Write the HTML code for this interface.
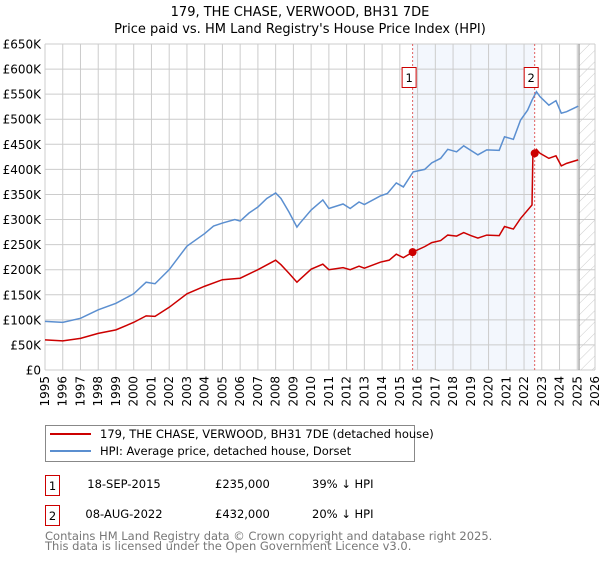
<!DOCTYPE html>
<html><head><meta charset="utf-8"><style>
body{margin:0;background:#fff;font-family:"DejaVu Sans","Liberation Sans",sans-serif}
svg text{font-family:"DejaVu Sans","Liberation Sans",sans-serif}
</style></head><body>
<svg id="chart" width="600" height="560" xmlns="http://www.w3.org/2000/svg">
<defs><pattern id="hatch" patternUnits="userSpaceOnUse" width="8" height="8" patternTransform="rotate(45)"><line x1="0" y1="0" x2="0" y2="8" stroke="#ccc" stroke-width="1"/></pattern></defs>
<text x="300" y="16" text-anchor="middle" font-size="13">179, THE CHASE, VERWOOD, BH31 7DE</text>
<text x="300" y="33" text-anchor="middle" font-size="13">Price paid vs. HM Land Registry's House Price Index (HPI)</text>
<g id="grid"></g><g id="marks"></g><g id="axes"></g>
<rect x="45.5" y="425.5" width="369" height="36" fill="#fff" stroke="#888"/>
<line x1="50" y1="434" x2="91" y2="434" stroke="#cc0000" stroke-width="2"/>
<text x="100" y="438" font-size="11.5">179, THE CHASE, VERWOOD, BH31 7DE (detached house)</text>
<line x1="50" y1="451" x2="91" y2="451" stroke="#5b8fd0" stroke-width="2"/>
<text x="100" y="455" font-size="11.5">HPI: Average price, detached house, Dorset</text>
<g font-size="11.5">
<rect x="45.5" y="475.5" width="14" height="20" fill="#fff" stroke="#cc0000"/>
<text x="52.5" y="490" text-anchor="middle">1</text>
<text x="124" y="488" text-anchor="middle">18-SEP-2015</text>
<text x="215" y="488">£235,000</text>
<text x="312" y="488">39% ↓ HPI</text></g>
<g font-size="11.5">
<rect x="45.5" y="505.5" width="14" height="20" fill="#fff" stroke="#cc0000"/>
<text x="52.5" y="520" text-anchor="middle">2</text>
<text x="124" y="518" text-anchor="middle">08-AUG-2022</text>
<text x="215" y="518">£432,000</text>
<text x="312" y="518">20% ↓ HPI</text></g>
<text x="45" y="540" font-size="11.5" fill="#777">Contains HM Land Registry data © Crown copyright and database right 2025.</text>
<text x="45" y="550" font-size="11.5" fill="#777">This data is licensed under the Open Government Licence v3.0.</text>
</svg>
<script>
const yTicks=[0,50,100,150,200,250,300,350,400,450,500,550,600,650];
const yTickLabels=["£0","£50K","£100K","£150K","£200K","£250K","£300K","£350K","£400K","£450K","£500K","£550K","£600K","£650K"];
const xYears=[1995,1996,1997,1998,1999,2000,2001,2002,2003,2004,2005,2006,2007,2008,2009,2010,2011,2012,2013,2014,2015,2016,2017,2018,2019,2020,2021,2022,2023,2024,2025,2026];
const hpiT=[1995,1996,1997,1998,1999,2000,2000.7,2001.2,2002,2003,2004,2004.5,2005,2005.7,2006,2006.5,2007,2007.5,2008,2008.3,2008.75,2009.2,2009.35,2010,2010.66,2011,2011.8,2012.2,2012.7,2013,2013.9,2014.3,2014.8,2015.2,2015.75,2016.4,2016.8,2017.3,2017.7,2018.2,2018.6,2019,2019.4,2019.9,2020.6,2020.9,2021.4,2021.8,2022.2,2022.45,2022.7,2022.9,2023.4,2023.8,2024.1,2024.4,2025.05];
const hpiV=[97,95,103,120,133,152,175,172,200,247,272,287,293,300,297,313,325,342,353,342,315,285,292,319,339,322,331,322,335,330,347,352,373,365,395,400,413,422,440,435,447,438,429,439,438,465,460,498,518,538,555,545,528,537,512,515,526];
const propT=[1995,1996,1997,1998,1999,2000,2000.7,2001.2,2002,2003,2004,2005,2006,2007,2008,2008.3,2008.75,2009.2,2009.35,2010,2010.66,2011,2011.8,2012.2,2012.7,2013,2013.9,2014.4,2014.8,2015.2,2015.72,2016.4,2016.8,2017.3,2017.7,2018.2,2018.6,2019,2019.4,2019.9,2020.6,2020.9,2021.4,2021.8,2022.45,2022.5,2022.7,2022.9,2023.4,2023.8,2024.1,2024.4,2025.05];
const propV=[60,58,63,73,80,95,108,107,125,152,167,180,183,200,219,210,193,175,180,201,211,200,204,200,207,203,215,219,231,224,235,246,254,258,269,267,274,268,263,269,268,286,281,302,329,432,440,432,422,427,407,412,419];
const saleT=[2015.72,2022.6];
const saleV=[235,432];
const saleLabels=["1","2"];
const NS="http://www.w3.org/2000/svg";
const X0=45,X1=595,Y0=370,Y1=44;
const xs=t=>X0+(t-1995)/(2026-1995)*(X1-X0);
const ys=v=>Y0-v/650*(Y0-Y1);
function mk(tag,attrs,parent){const e=document.createElementNS(NS,tag);for(const k in attrs)e.setAttribute(k,attrs[k]);parent.appendChild(e);return e;}
const grid=document.getElementById('grid'),marks=document.getElementById('marks'),axes=document.getElementById('axes');
// shading
const sh=mk('rect',{x:xs(saleT[0]),y:Y1,width:xs(saleT[1])-xs(saleT[0]),height:Y0-Y1,fill:'#eef3fc',opacity:0.7},grid);


const ht=mk('rect',{x:xs(2025.1),y:Y1,width:X1-xs(2025.1),height:Y0-Y1,fill:'url(#hatch)'},grid);


xYears.forEach(yr=>{const l=mk('line',{x1:xs(yr),x2:xs(yr),y1:Y1,y2:Y0,stroke:'#ccc'},grid);


const t=mk('text',{transform:`translate(${xs(yr)+4},376) rotate(-90)`,'text-anchor':'end','font-size':'12'},axes);t.textContent=yr;

});
yTicks.forEach((v,i)=>{const l=mk('line',{x1:X0,x2:X1,y1:ys(v),y2:ys(v),stroke:'#ccc'},grid);


const t=mk('text',{x:41,y:ys(v)+4.5,'text-anchor':'end','font-size':'12'},axes);t.textContent=yTickLabels[i];

});
const nl=mk('line',{x1:xs(2025.1),x2:xs(2025.1),y1:Y1,y2:Y0,stroke:'#999','stroke-width':1.2},grid);


saleT.forEach((t,i)=>{const l=mk('line',{x1:xs(t),x2:xs(t),y1:Y1,y2:Y0,stroke:'#e06060','stroke-dasharray':'2,2'},marks);

});
const hp=mk('polyline',{points:hpiT.map((t,i)=>xs(t)+','+ys(hpiV[i])).join(' '),fill:'none',stroke:'#5b8fd0','stroke-width':1.5},marks);


const pp=mk('polyline',{points:propT.map((t,i)=>xs(t)+','+ys(propV[i])).join(' '),fill:'none',stroke:'#cc0000','stroke-width':1.5},marks);


saleT.forEach((t,i)=>{const c=mk('circle',{cx:xs(t),cy:ys(saleV[i]),r:4,fill:'#cc0000'},marks);


const g=mk('g',{},marks);


mk('rect',{x:xs(t)-10.5,y:67.5,width:14,height:20,fill:'#fff',stroke:'#cc0000'},g);
const tx=mk('text',{x:xs(t)-3.5,y:82,'text-anchor':'middle','font-size':'11.5'},g);tx.textContent=saleLabels[i];});
</script>
</body></html>
